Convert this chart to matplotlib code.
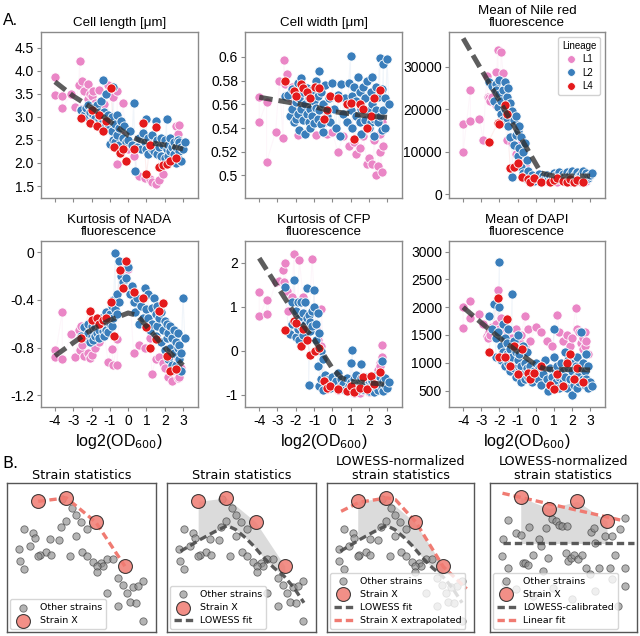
import matplotlib
matplotlib.use("Agg")
import matplotlib.pyplot as plt
import numpy as np
from matplotlib.lines import Line2D

# ---------------- Panel A data ----------------
L1_x = [-4.0, -4.0, -3.6, -3.6, -3.1, -2.9, -2.7, -2.65, -2.6, -2.5,
        -2.4, -2.2, -2.2, -2.1, -2.0, -1.9, -1.8, -1.6, -1.3, -1.1,
        -0.9, -0.8, -0.6, -0.6, -0.4, -0.3, 0.0, 0.3, 0.6, 0.9,
        1.2, 1.3, 1.5, 1.7, 1.9, 2.0, 2.2, 2.3, 2.4, 2.5,
        2.6, 2.6, 2.7, 2.7, 2.8, 2.9]
L2_x = [-2.6, -2.4, -2.3, -2.2, -2.2, -2.1, -2.0, -2.0, -1.9, -1.9,
        -1.8, -1.8, -1.7, -1.7, -1.6, -1.6, -1.5, -1.5, -1.4, -1.4,
        -1.3, -1.3, -1.2, -1.2, -1.1, -1.1, -1.0, -1.0, -0.9, -0.9,
        -0.8, -0.8, -0.7, -0.7, -0.6, -0.6, -0.5, -0.5, -0.4, -0.3,
        -0.2, -0.1, 0.0, 0.1, 0.2, 0.3, 0.4, 0.5, 0.6, 0.7,
        0.8, 0.9, 1.0, 1.0, 1.1, 1.1, 1.2, 1.3, 1.3, 1.4,
        1.5, 1.5, 1.6, 1.6, 1.7, 1.8, 1.8, 1.9, 2.0, 2.0,
        2.1, 2.1, 2.2, 2.2, 2.3, 2.3, 2.4, 2.4, 2.5, 2.5,
        2.6, 2.6, 2.7, 2.7, 2.8, 2.8, 2.9, 2.9, 3.0, 3.1]
L4_x = [-2.6, -2.1, -2.0, -1.7, -1.6, -1.4, -1.2, -0.95, -0.75, -0.45,
        -0.3, -0.1, 0.3, 0.8, 1.0, 1.2, 1.5, 1.7, 1.9, 2.1, 2.3, 2.6]

# Cell length
len_L1 = [3.87, 3.48, 3.46, 3.2, 3.5, 3.22, 3.7, 4.22, 3.17, 3.77,
          3.55, 3.72, 3.38, 3.5, 3.45, 3.55, 3.3, 3.58, 3.28, 3.7,
          3.62, 3.42, 3.55, 1.98, 2.6, 3.3, 2.3, 2.15, 1.72, 1.68,
          1.66, 1.58, 1.55, 1.62, 1.75, 2.0, 2.05, 2.2, 2.45, 2.55,
          2.8, 2.3, 2.62, 2.25, 2.82, 2.35]
len_L2 = [3.15, 3.05, 3.2, 3.0, 3.25, 3.1, 2.95, 3.2, 3.05, 2.9,
          3.15, 2.98, 3.25, 2.85, 3.1, 2.95, 3.35, 3.0, 3.8, 2.9,
          3.1, 2.8, 3.5, 2.95, 2.75, 3.05, 2.9, 2.42, 3.0, 2.7,
          3.65, 2.5, 2.85, 2.45, 3.05, 2.6, 2.75, 2.4, 2.9, 2.55,
          2.8, 2.45, 2.5, 2.7, 2.4, 3.3, 1.83, 2.35, 2.55, 2.3,
          2.65, 2.45, 2.95, 2.3, 2.55, 2.2, 2.4, 2.6, 2.3, 2.25,
          2.45, 2.9, 2.2, 2.5, 2.35, 2.55, 2.15, 2.4, 2.5, 2.1,
          2.95, 2.3, 2.15, 2.4, 2.55, 2.25, 2.05, 2.35, 2.2, 2.45,
          2.35, 2.0, 2.1, 2.5, 2.45, 2.25, 2.05, 2.35, 2.3, 2.45]
len_L4 = [2.97, 2.87, 3.15, 2.8, 3.05, 2.7, 2.9, 3.62, 2.35, 2.22,
          2.3, 2.05, 2.3, 2.86, 1.75, 2.4, 2.78, 1.92, 1.95, 1.98, 2.05, 2.1]
len_low_x = [-4, -3, -2, -1, 0, 0.7, 1.5, 2.2, 3]
len_low_y = [3.76, 3.45, 3.2, 2.9, 2.6, 2.48, 2.42, 2.38, 2.3]

# Cell width
wid_L1 = [0.566, 0.545, 0.562, 0.511, 0.537, 0.58, 0.532, 0.597, 0.577, 0.586,
          0.566, 0.555, 0.575, 0.56, 0.55, 0.534, 0.558, 0.562, 0.565, 0.553,
          0.534, 0.556, 0.555, 0.545, 0.545, 0.535, 0.537, 0.52, 0.533, 0.525,
          0.528, 0.518, 0.523, 0.533, 0.51, 0.515, 0.51, 0.53, 0.5, 0.508,
          0.535, 0.52, 0.503, 0.545, 0.525, 0.54]
wid_L2 = [0.567, 0.568, 0.55, 0.573, 0.556, 0.545, 0.562, 0.548, 0.578, 0.552,
          0.565, 0.538, 0.582, 0.556, 0.547, 0.57, 0.56, 0.535, 0.574, 0.552,
          0.545, 0.565, 0.556, 0.54, 0.572, 0.55, 0.563, 0.544, 0.557, 0.58,
          0.548, 0.567, 0.588, 0.555, 0.543, 0.57, 0.56, 0.537, 0.576, 0.55,
          0.565, 0.545, 0.578, 0.556, 0.54, 0.568, 0.533, 0.577, 0.552, 0.565,
          0.545, 0.578, 0.601, 0.555, 0.567, 0.54, 0.575, 0.55, 0.563, 0.583,
          0.545, 0.57, 0.556, 0.535, 0.575, 0.565, 0.547, 0.58, 0.555, 0.54,
          0.57, 0.545, 0.583, 0.56, 0.548, 0.533, 0.575, 0.555, 0.545, 0.566,
          0.599, 0.55, 0.573, 0.538, 0.594, 0.555, 0.565, 0.54, 0.598, 0.56]
wid_L4 = [0.58, 0.571, 0.567, 0.577, 0.574, 0.57, 0.565, 0.575, 0.574, 0.548,
          0.555, 0.567, 0.565, 0.56, 0.561, 0.531, 0.56, 0.556, 0.54, 0.55, 0.565, 0.572]
wid_low_x = [-4, -2.5, -1, 0, 1, 2, 3]
wid_low_y = [0.566, 0.562, 0.558, 0.554, 0.552, 0.550, 0.549]

# Mean of Nile red fluorescence
nile_L1 = [16500, 10000, 24600, 17200, 17800, 12800, 27800, 23000, 22600, 22000,
           22800, 28700, 21000, 33900, 16700, 33500, 28500, 12800, 12000, 9500,
           11500, 7500, 7000, 5500, 4000, 3000, 3500, 4200, 3200, 3800,
           3000, 4000, 3300, 3600, 3000, 4200, 3100, 3800, 3300, 2900,
           3500, 4100, 3000, 3700, 3200, 3900]
nile_L2 = [26500, 25500, 22000, 26000, 24500, 20500, 23500, 27000, 19000, 22000,
           24500, 17500, 26500, 20000, 18000, 23000, 25000, 16000, 21500, 13500,
           19500, 4100, 17500, 11500, 18500, 14000, 15000, 9000, 16000, 11000,
           13500, 6500, 10000, 5000, 12000, 4200, 8000, 3500, 5500, 3700,
           4500, 3200, 4000, 3600, 4800, 3300, 4200, 3800, 4500, 3400,
           4300, 3700, 5000, 3500, 4600, 3900, 4300, 3600, 5200, 4100,
           3700, 4800, 4200, 3400, 5300, 4000, 3600, 4700, 3800, 5600,
           4300, 3500, 4900, 4000, 3600, 5200, 4400, 3800, 4800, 3500,
           4200, 5500, 4000, 3600, 4600, 5000, 3800, 4300, 4500, 5000]
nile_L4 = [12400, 16700, 16500, 21000, 19000, 6100, 6500, 7300, 4000, 3600,
           3000, 3800, 2800, 3000, 3300, 3900, 3200, 2800, 3500, 3000, 3300, 2900]
nile_low_x = [-4, -2, 0.3, 1, 3]
nile_low_y = [36700, 22000, 5000, 4300, 4300]

# Kurtosis of NADA fluorescence
nada_L1 = [-0.82, -0.88, -0.5, -0.9, -0.69, -0.88, -0.65, -0.82, -0.62, -0.78,
           -0.87, -0.85, -0.66, -0.89, -0.86, -0.68, -0.8, -0.75, -0.68, -0.92,
           -0.81, -0.95, -0.73, -0.95, -0.14, -0.2, -0.14, -0.85, -0.78, -0.8,
           -0.72, -1.02, -0.9, -0.88, -0.93, -0.97, -1.05, -0.87, -1.08, -1.0,
           -1.0, -0.82, -1.06, -0.9, -1.05, -0.97]
nada_L2 = [-0.7, -0.63, -0.72, -0.6, -0.68, -0.75, -0.62, -0.7, -0.66, -0.74,
           -0.63, -0.7, -0.58, -0.68, -0.65, -0.72, -0.6, -0.55, -0.66, -0.58,
           -0.7, -0.62, -0.5, -0.65, -0.58, -0.67, -0.52, -0.6, -0.45, -0.62,
           -0.55, -0.4, -0.01, -0.48, -0.35, -0.52, -0.07, -0.42, -0.2, -0.25,
           -0.3, -0.22, -0.12, -0.35, -0.28, -0.42, -0.5, -0.38, -0.6, -0.45,
           -0.55, -0.3, -0.48, -0.62, -0.35, -0.55, -0.65, -0.47, -0.6, -0.38,
           -0.52, -0.7, -0.45, -0.62, -0.55, -0.75, -0.5, -0.65, -0.58, -0.82,
           -0.6, -0.72, -0.68, -0.9, -0.62, -0.8, -0.72, -0.95, -0.65, -0.85,
           -0.75, -0.95, -0.8, -0.68, -0.9, -0.78, -1.0, -0.85, -0.38, -0.72]
nada_L4 = [-0.72, -0.49, -0.57, -0.55, -0.6, -0.57, -0.55, -0.42, -0.7, -0.15,
           -0.3, -0.07, -0.33, -0.38, -0.63, -0.8, -0.73, -0.49, -0.43, -0.87, -1.0, -0.98]
nada_low_x = [-4, -3, -2, -1, 0, 0.5, 1, 2, 3]
nada_low_y = [-0.87, -0.76, -0.65, -0.57, -0.51, -0.53, -0.62, -0.8, -0.95]

# Kurtosis of CFP fluorescence
cfp_L1 = [1.33, 0.78, 1.15, 0.83, 1.57, 1.58, 1.83, 1.57, 1.98, 1.35,
          0.9, 1.15, 1.22, 2.2, 0.75, 1.1, 2.05, 1.22, 0.55, 2.08,
          0.5, 0.25, 0.1, 0.95, -0.7, -0.88, -0.75, -0.89, -0.82, -0.92,
          -0.96, -0.85, -0.96, -0.9, -0.8, -0.93, -0.85, -0.9, -0.6, -0.45,
          -0.28, -0.36, 0.12, -0.15, -0.8, -0.7]
cfp_L2 = [1.45, 0.45, 0.38, 1.1, 0.6, 1.6, 0.3, 0.9, 0.5, 1.1,
          0.25, 0.75, 1.1, 0.55, 0.85, 0.35, 0.6, 1.1, 1.43, 0.75,
          0.8, -0.78, 0.45, 0.65, 0.9, 0.55, 1.38, 1.0, 0.6, 0.25,
          0.85, -0.35, 0.4, -0.8, 0.0, -0.65, -0.2, -0.9, -0.55, -0.75,
          -0.65, -0.85, -0.6, -0.78, -0.7, -0.5, -0.82, -0.65, -0.75, -0.9,
          -0.62, -0.8, -0.28, -0.72, 0.02, -0.85, -0.65, -0.78, -0.55, -0.9,
          -0.7, -0.82, -0.31, -0.62, -0.88, -0.72, -0.6, -0.8, -0.68, -0.92,
          -0.75, -0.62, -0.85, -0.7, -0.58, -0.95, -0.72, -0.82, -0.65, -0.9,
          -0.75, -0.6, -0.24, -0.85, -0.7, -0.92, -0.78, -0.62, -0.85, -0.72]
cfp_L4 = [0.48, 0.68, 0.62, 0.1, 0.5, 0.25, -0.1, 0.0, 0.05, -0.7,
          -0.85, -0.8, -0.87, -0.92, -0.8, -0.95, -0.85, -0.6, -0.88, -0.58, -0.75, -0.48]
cfp_low_x = [-4, -3, -2, -1, 0, 0.5, 1, 2, 3]
cfp_low_y = [2.1, 1.45, 0.8, 0.25, -0.4, -0.62, -0.7, -0.73, -0.77]

# Mean of DAPI fluorescence
dapi_L1 = [1620, 2000, 2110, 1800, 1870, 1700, 1480, 1450, 1560, 1500,
           1650, 1450, 1700, 2310, 1600, 1810, 1550, 1500, 1450, 1600,
           1400, 1500, 1850, 1300, 1600, 1400, 1650, 1550, 1400, 1300,
           1860, 1550, 1400, 1500, 1300, 1450, 1980, 1600, 1550, 1350,
           1450, 1250, 1300, 1550, 1400, 1150]
dapi_L2 = [1840, 1600, 2050, 1100, 1450, 1550, 2820, 2000, 1300, 1050,
           1700, 1200, 1450, 950, 1350, 1150, 1600, 1000, 1250, 850,
           2230, 1100, 1400, 900, 1200, 750, 1050, 1500, 850, 1150,
           950, 650, 1300, 800, 1000, 700, 900, 1200, 750, 950,
           650, 850, 1000, 700, 900, 600, 800, 1050, 700, 500,
           900, 750, 1600, 1100, 650, 850, 950, 550, 750, 1000,
           850, 650, 1200, 750, 550, 900, 1050, 700, 420, 850,
           1000, 600, 750, 950, 550, 1100, 800, 650, 1550, 900,
           700, 1000, 600, 850, 1150, 700, 550, 950, 650, 580]
dapi_L4 = [1200, 2160, 1100, 1110, 1780, 950, 1300, 790, 1250, 820,
           700, 810, 950, 600, 520, 800, 580, 1000, 1160, 700, 900, 650]
dapi_low_x = [-4, -3, -2, -1, 0, 0.5, 1, 2, 3]
dapi_low_y = [2000, 1720, 1450, 1200, 960, 890, 880, 880, 870]

x_ticks = [-4, -3, -2, -1, 0, 1, 2, 3]
lineages = ["L1", "L2", "L4"]

# ---------------- Panel B data ----------------
other_x = [37.2, 43.3, 46.2, 39.9, 36.5, 49.6, 53.8, 11.4, 17.5, 18.6,
           29.1, 35.0, 46.2, 15.2, 8.1, 26.5, 22.0, 21.0, 29.4, 42.6,
           50.0, 53.8, 57.8, 62.8, 67.3, 71.3, 64.1, 60.1, 60.1, 8.5,
           11.4, 74.7, 78.0, 80.7, 84.3, 88.1, 91.5, 67.3, 82.5, 86.5,
           74.7, 91.5]
other_y = [89.3, 83.3, 78.8, 74.3, 70.5, 73.9, 68.8, 68.8, 66.5, 63.2,
           62.5, 61.6, 64.3, 58.0, 55.8, 53.6, 52.0, 51.2, 52.0, 50.9,
           53.6, 50.9, 46.9, 46.4, 49.1, 49.1, 44.2, 44.6, 40.2, 47.5,
           42.6, 36.4, 31.3, 26.3, 30.4, 30.8, 34.2, 25.9, 20.3, 19.6,
           17.4, 7.4]
strainx_x = [20.9, 39.9, 59.6, 79.1]
strainx_y = [87.7, 90.0, 73.7, 44.2]
lowess_bx = [9.0, 16.8, 22.4, 31.4, 40.4, 46.0, 52.7, 58.3, 65.0, 71.7, 78.5, 85.2, 91.9]
lowess_by = [54.2, 58.7, 62.1, 67.0, 71.4, 68.8, 63.2, 57.6, 49.8, 43.1, 37.5, 29.7, 19.6]
extrap_x = [9.6, 22.0, 41.0, 46.6, 60.5, 79.1, 95.0]
extrap_y = [81.0, 87.1, 90.0, 88.8, 73.7, 43.8, 29.0]
norm_x = [12.3, 9.0, 8.5, 12.3, 17.9, 21.3, 22.4, 23.5, 25.8, 26.5,
          29.1, 33.6, 34.8, 35.9, 38.1, 39.2, 41.9, 44.8, 47.1, 49.3,
          52.7, 51.6, 53.4, 54.9, 57.2, 60.1, 62.8, 65.0, 67.7, 68.4,
          70.6, 71.7, 74.0, 78.5, 83.0, 81.8, 85.2, 88.6, 91.9, 91.9,
          10.1, 17.9, 29.1, 42.6, 56.1, 71.7, 83.0, 87.4, 91.9]
norm_y = [75.4, 62.1, 51.3, 43.1, 66.5, 65.4, 46.0, 46.0, 45.3, 70.5,
          52.0, 62.1, 58.0, 40.8, 69.9, 49.8, 75.9, 74.3, 72.1, 71.0,
          71.0, 53.1, 47.5, 49.8, 52.0, 48.7, 52.0, 43.1, 38.6, 67.0,
          69.9, 59.8, 43.1, 64.3, 64.3, 43.1, 52.0, 68.8, 43.1, 76.6,
          33.0, 28.6, 24.1, 29.7, 21.9, 27.5, 35.3, 17.4, 30.8]
normx_x = [20.9, 40.4, 59.4, 79.6]
normx_y = [90.4, 82.8, 87.7, 74.3]
calib_level = [59.4, 59.4]
calib_x = [9.0, 98.0]

# ---------------- style ----------------
plt.rcParams["font.family"] = ["Liberation Sans", "DejaVu Sans"]
COL = {"L1": "#ea86c6", "L2": "#3a7ebb", "L4": "#e41a1c"}
SPINE = "#8a8a8a"

fig = plt.figure(figsize=(6.4, 6.36), dpi=100)


def rect(l, t, r, b):
    return [l / 640, 1 - b / 636, (r - l) / 640, (b - t) / 636]


cols = [(40.7, 198), (245, 402), (449, 605)]
rows = [(32, 198), (241, 407)]

panels = [
    ("Cell length [μm]", len_L1, len_L2, len_L4, len_low_x, len_low_y,
     (1.24, 4.84), [1.5, 2.0, 2.5, 3.0, 3.5, 4.0, 4.5],
     ["1.5", "2.0", "2.5", "3.0", "3.5", "4.0", "4.5"]),
    ("Cell width [μm]", wid_L1, wid_L2, wid_L4, wid_low_x, wid_low_y,
     (0.481, 0.621), [0.5, 0.52, 0.54, 0.56, 0.58, 0.6],
     ["0.5", "0.52", "0.54", "0.56", "0.58", "0.6"]),
    ("Mean of Nile red\nfluorescence", nile_L1, nile_L2, nile_L4, nile_low_x, nile_low_y,
     (-870, 38200), [0, 10000, 20000, 30000], ["0", "10000", "20000", "30000"]),
    ("Kurtosis of NADA\nfluorescence", nada_L1, nada_L2, nada_L4, nada_low_x, nada_low_y,
     (-1.30, 0.095), [-1.2, -0.8, -0.4, 0.0], ["-1.2", "-0.8", "-0.4", "0"]),
    ("Kurtosis of CFP\nfluorescence", cfp_L1, cfp_L2, cfp_L4, cfp_low_x, cfp_low_y,
     (-1.28, 2.49), [-1, 0, 1, 2], ["-1", "0", "1", "2"]),
    ("Mean of DAPI\nfluorescence", dapi_L1, dapi_L2, dapi_L4, dapi_low_x, dapi_low_y,
     (203, 3193), [500, 1000, 1500, 2000, 2500, 3000],
     ["500", "1000", "1500", "2000", "2500", "3000"]),
]

for i, (title, y1, y2, y4, lx, ly, ylim, yt, ytl) in enumerate(panels):
    r, c = divmod(i, 3)
    ax = fig.add_axes(rect(cols[c][0], rows[r][0], cols[c][1], rows[r][1]))
    series = (("L1", L1_x, y1), ("L2", L2_x, y2), ("L4", L4_x, y4))
    # faint trajectories linking consecutive measurements of each lineage
    for lab, xs, ys in series:
        ax.plot(xs, ys, color=COL[lab], alpha=0.07, lw=0.8, zorder=1)
    for lab, xs, ys in series:
        ax.scatter(xs, ys, s=44, c=COL[lab], edgecolors="white", linewidths=0.6, zorder=2)
    ax.plot(lx, ly, color="#2f2f2f", alpha=0.78, lw=3.6, dashes=(2.7, 1.2), zorder=5)
    ax.set_xlim(-4.78, 3.82)
    ax.set_ylim(*ylim)
    ax.set_yticks(yt)
    ax.set_yticklabels(ytl, fontsize=10)
    ax.set_xticks(x_ticks)
    if r == 1:
        ax.set_xticklabels([str(v) for v in x_ticks], fontsize=10)
        ax.set_xlabel("log2(OD$_{600}$)", fontsize=11.5, labelpad=3)
    else:
        ax.set_xticklabels([])
    ax.set_title(title, fontsize=9.6, pad=4, linespacing=1.05)
    for s in ax.spines.values():
        s.set_color(SPINE)
        s.set_linewidth(1.0)
    ax.tick_params(length=3, width=0.8, color=SPINE, pad=2)
    if i == 2:
        handles = [Line2D([], [], ls="", marker="o", markersize=5.5, markerfacecolor=COL[l],
                          markeredgecolor="white", markeredgewidth=0.5) for l in lineages]
        leg = ax.legend(handles, lineages, title="Lineage", loc="upper right", fontsize=7,
                        title_fontsize=7, handletextpad=0.6, borderpad=0.4,
                        labelspacing=0.35, handlelength=1.2, framealpha=0.9)
        leg.get_frame().set_edgecolor("#cccccc")

fig.text(0.004, 1 - 20.5 / 636, "A.", fontsize=11.5, va="center", ha="left")

# ---------------- Panel B ----------------
BFONT = "DejaVu Sans"
brect = [(7, 156), (167, 316), (327, 474), (490, 637)]
btop, bbot = 483, 632
btitles = ["Strain statistics", "Strain statistics",
           "LOWESS-normalized\nstrain statistics", "LOWESS-normalized\nstrain statistics"]
GREY = "#8c8c8c"
SALMON = "#f07b72"

for k in range(4):
    ax = fig.add_axes(rect(brect[k][0], btop, brect[k][1], bbot))
    ax.set_xlim(0, 100)
    ax.set_ylim(0, 100)
    ax.set_xticks([])
    ax.set_yticks([])
    for s in ax.spines.values():
        s.set_color("#555555")
        s.set_linewidth(1.0)
    ax.set_title(btitles[k], fontsize=9.2, family=BFONT, pad=3, linespacing=1.05)
    handles, labels = [], []
    if k < 3:
        ox, oy, sx, sy = other_x, other_y, strainx_x, strainx_y
    else:
        ox, oy, sx, sy = norm_x, norm_y, normx_x, normx_y
    h1 = ax.scatter(ox, oy, s=28, c=GREY, alpha=0.65, edgecolors="#333333", linewidths=0.6, zorder=2)
    h2 = ax.scatter(sx, sy, s=100, c=SALMON, alpha=0.85, edgecolors="#222222", linewidths=0.8, zorder=6)
    handles += [h1, h2]
    labels += ["Other strains", "Strain X"]
    if k == 0:
        ax.plot(sx, sy, color=SALMON, lw=2.4, dashes=(2.2, 1.2), zorder=4)
    if k in (1, 2):
        gx = np.linspace(sx[0], sx[-1], 60)
        ax.fill_between(gx, np.interp(gx, sx, sy), np.interp(gx, lowess_bx, lowess_by),
                        color="#9a9a9a", alpha=0.35, lw=0, zorder=1)
        hl, = ax.plot(lowess_bx, lowess_by, color="#4a4a4a", alpha=0.9, lw=2.4,
                      dashes=(2.2, 1.2), zorder=3)
        handles.append(hl)
        labels.append("LOWESS fit")
    if k == 2:
        he, = ax.plot(extrap_x, extrap_y, color=SALMON, lw=2.4, dashes=(2.2, 1.2), zorder=4)
        handles.append(he)
        labels.append("Strain X extrapolated")
    if k == 3:
        gx = np.linspace(sx[0], sx[-1], 60)
        ax.fill_between(gx, np.interp(gx, sx, sy), calib_level[0],
                        color="#9a9a9a", alpha=0.35, lw=0, zorder=1)
        hc, = ax.plot(calib_x, calib_level, color="#4a4a4a", alpha=0.9, lw=2.4,
                      dashes=(2.2, 1.2), zorder=3)
        coef = np.polyfit(sx, sy, 1)
        fx = np.array([8.5, 91.0])
        hf, = ax.plot(fx, np.polyval(coef, fx), color=SALMON, lw=2.4, dashes=(2.2, 1.2), zorder=4)
        handles += [hc, hf]
        labels += ["LOWESS-calibrated", "Linear fit"]
    leg = ax.legend(handles, labels, loc="lower left", prop={"family": BFONT, "size": 6.8},
                    borderaxespad=0.3, labelspacing=0.45, handletextpad=0.8,
                    handlelength=2.0, framealpha=0.8, borderpad=0.4)
    leg.get_frame().set_edgecolor("#cccccc")

fig.text(0.004, 1 - 464 / 636, "B.", fontsize=11.5, va="center", ha="left", family=BFONT)

fig.savefig("out.png", dpi=100)
